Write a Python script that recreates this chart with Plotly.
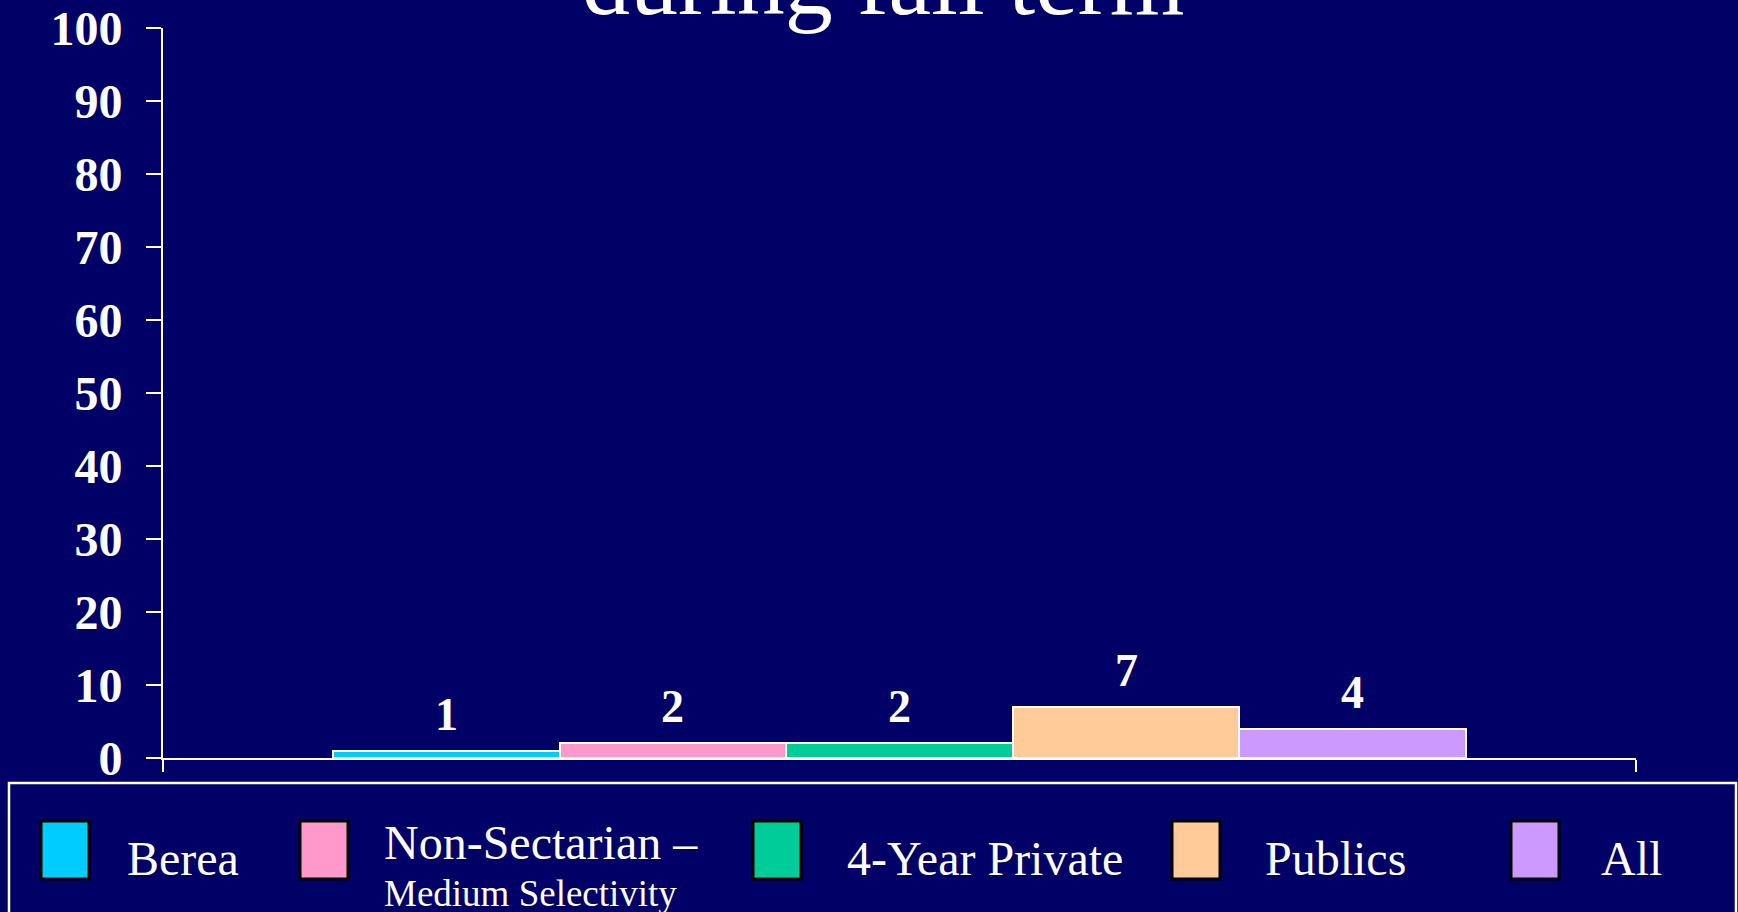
import plotly.graph_objects as go

# ---- data ----
categories = ["Berea", "Non-Sectarian – Medium Selectivity", "4-Year Private", "Publics", "All"]
legend_main = ["Berea", "Non-Sectarian –", "4-Year Private", "Publics", "All"]
legend_sub = ["", "Medium Selectivity", "", "", ""]
values = [1, 2, 2, 7, 4]
colors = ["#00CCFF", "#FF99CC", "#00CC99", "#FFCC99", "#CC99FF"]
y_ticks = [0, 10, 20, 30, 40, 50, 60, 70, 80, 90, 100]
title_text = "during fall term"

BG = "#000066"
FONT = "Liberation Serif, Times New Roman, serif"

W, H = 1738, 912
L, R, T, B = 163, 1636, 28, 758  # plot area in pixels


def px_x(px):
    return (px - L) / (R - L)


def px_y(py):
    return (B - py) / (B - T)


xpos = list(range(len(categories)))

fig = go.Figure()
fig.add_trace(go.Bar(
    x=xpos, y=values, width=1,
    marker=dict(color=colors, line=dict(color="white", width=2)),
    hovertext=categories, showlegend=False,
))

annotations = []
# value labels
for xi, v in zip(xpos, values):
    annotations.append(dict(
        x=xi, y=v, xref="x", yref="y", text=str(v), showarrow=False,
        yanchor="bottom", yshift=9,
        font=dict(family=FONT, size=46, color="white", weight="bold"),
    ))

# title (cut off at top)
annotations.append(dict(
    x=px_x(883), y=px_y(37), xref="paper", yref="paper", text=title_text,
    showarrow=False, xanchor="center", yanchor="bottom",
    font=dict(family=FONT, size=96, color="white"),
))

shapes = []
# legend box
shapes.append(dict(type="rect", xref="paper", yref="paper",
                   x0=px_x(9), x1=px_x(1736), y0=px_y(783), y1=px_y(960),
                   line=dict(color="white", width=2.5), fillcolor="rgba(0,0,0,0)"))

sw_x = [41, 300, 753, 1172, 1511]
tx_x = [125, 382, 845, 1263, 1599]
for i, (c, m, s) in enumerate(zip(colors, legend_main, legend_sub)):
    shapes.append(dict(type="rect", xref="paper", yref="paper",
                       x0=px_x(sw_x[i]), x1=px_x(sw_x[i] + 48),
                       y0=px_y(821), y1=px_y(879),
                       fillcolor=c, line=dict(color="black", width=3)))
    if s:
        annotations.append(dict(
            x=px_x(tx_x[i]), y=px_y(842), xref="paper", yref="paper", text=m,
            showarrow=False, xanchor="left", yanchor="middle",
            font=dict(family=FONT, size=48, color="white")))
        annotations.append(dict(
            x=px_x(tx_x[i]), y=px_y(893), xref="paper", yref="paper", text=s,
            showarrow=False, xanchor="left", yanchor="middle",
            font=dict(family=FONT, size=37, color="white")))
    else:
        annotations.append(dict(
            x=px_x(tx_x[i]), y=px_y(858), xref="paper", yref="paper", text=m,
            showarrow=False, xanchor="left", yanchor="middle",
            font=dict(family=FONT, size=48, color="white")))

fig.update_layout(
    width=W, height=H,
    margin=dict(l=L, r=W - R, t=T, b=H - B, pad=0, autoexpand=False),
    paper_bgcolor=BG, plot_bgcolor=BG,
    annotations=annotations, shapes=shapes,
    bargap=0,
    xaxis=dict(range=[-1.25, 5.25], showgrid=False, zeroline=False, automargin=False,
               showline=True, linecolor="white", linewidth=2,
               ticks="outside", tickvals=[-1.2499, 5.2499], ticktext=["", ""],
               ticklen=12, tickwidth=2, tickcolor="white", fixedrange=True),
    yaxis=dict(range=[0, 100], tickvals=y_ticks, showgrid=False, zeroline=False,
               automargin=False,
               showline=True, linecolor="white", linewidth=2,
               ticks="outside", ticklen=15, tickwidth=2, tickcolor="white",
               ticklabelstandoff=14,
               tickfont=dict(family=FONT, size=48, color="white", weight="bold"),
               fixedrange=True),
)

fig.write_html("out.html", config={"displayModeBar": False},
               post_script="document.body.style.margin='0';document.body.style.background='#000066';")
